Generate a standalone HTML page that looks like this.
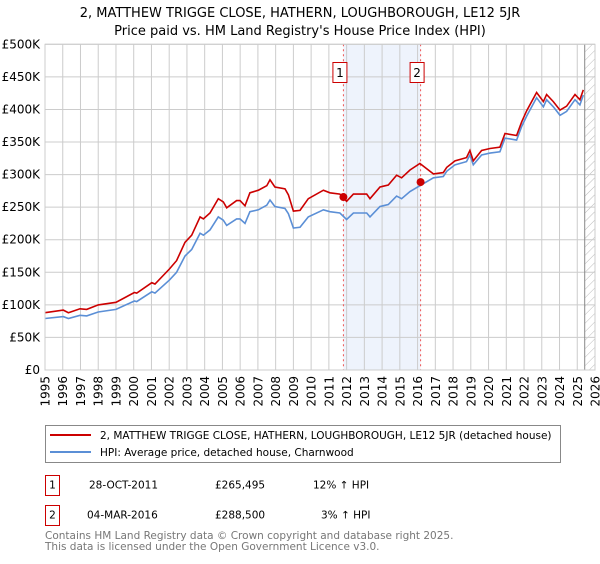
<!DOCTYPE html>
<html><head><meta charset="utf-8"><style>
body{margin:0;background:#fff;width:600px;height:560px;overflow:hidden;font-family:"DejaVu Sans","Liberation Sans",sans-serif;}
svg text{font-family:"DejaVu Sans","Liberation Sans",sans-serif;}
</style></head><body>
<svg id="chart" width="600" height="560" xmlns="http://www.w3.org/2000/svg">
<defs><pattern id="hatch" width="6" height="6" patternUnits="userSpaceOnUse" patternTransform="rotate(45)"><line x1="0" y1="0" x2="0" y2="6" stroke="#bbb" stroke-width="1"/></pattern></defs>
<text x="300" y="17" font-size="13" text-anchor="middle">2, MATTHEW TRIGGE CLOSE, HATHERN, LOUGHBOROUGH, LE12 5JR</text>
<text x="300" y="35" font-size="13" text-anchor="middle">Price paid vs. HM Land Registry's House Price Index (HPI)</text>
<g id="grid"></g><g id="marks"></g><g id="axes"></g>
<rect x="45.5" y="425.5" width="515" height="37" fill="#fff" stroke="#888"/>
<line x1="50" y1="435" x2="91" y2="435" stroke="#cc0000" stroke-width="2"/>
<text x="100" y="439" font-size="10.5">2, MATTHEW TRIGGE CLOSE, HATHERN, LOUGHBOROUGH, LE12 5JR (detached house)</text>
<line x1="50" y1="452" x2="91" y2="452" stroke="#5b8fd6" stroke-width="2"/>
<text x="100" y="456" font-size="10.5">HPI: Average price, detached house, Charnwood</text>
<g font-size="10.5">
<rect x="45.5" y="475.5" width="14" height="20" fill="#fff" stroke="#cc0000"/><text x="52.5" y="488.5" text-anchor="middle">1</text>
<text x="89" y="488.5">28-OCT-2011</text><text x="215" y="488.5">£265,495</text><text x="313" y="488.5">12% ↑ HPI</text></g>
<g font-size="10.5">
<rect x="45.5" y="505.5" width="14" height="20" fill="#fff" stroke="#cc0000"/><text x="52.5" y="518.5" text-anchor="middle">2</text>
<text x="87" y="518.5">04-MAR-2016</text><text x="215" y="518.5">£288,500</text><text x="321" y="518.5">3% ↑ HPI</text></g>
<text x="45" y="539" font-size="10.5" fill="#777">Contains HM Land Registry data © Crown copyright and database right 2025.</text>
<text x="45" y="550" font-size="10.5" fill="#777">This data is licensed under the Open Government Licence v3.0.</text>
</svg>
<script>
const years=[1995.0,1996.03,1996.32,1996.97,1997.35,1998.0,1999.0,2000.04,2000.17,2001.02,2001.2,2002.01,2002.42,2002.89,2003.27,2003.74,2003.93,2004.3,2004.77,2005.05,2005.24,2005.8,2005.99,2006.27,2006.55,2007.03,2007.5,2007.68,2007.96,2008.53,2008.72,2009.0,2009.37,2009.84,2010.69,2011.06,2011.62,2012.0,2012.38,2013.13,2013.32,2013.88,2014.35,2014.82,2015.1,2015.57,2016.13,2016.89,2017.45,2017.64,2018.11,2018.76,2018.95,2019.14,2019.61,2020.08,2020.64,2020.93,2021.58,2021.87,2022.15,2022.71,2023.09,2023.27,2023.65,2024.03,2024.4,2024.87,2025.15,2025.34];
const hpiValues=[79,82,79,84,83,89,93,106,105,120,118,138,150,175,185,210,207,215,235,230,222,232,232,225,243,246,253,261,251,248,240,218,219,235,246,243,241,231,241,241,235,251,254,267,263,274,283,295,297,305,315,320,330,315,330,333,335,356,353,374,390,418,404,415,404,391,397,415,407,422];
const priceValues=[88,92,88,94,93,100,104,119,118,134,132,155,168,196,207,235,232,241,263,258,249,260,260,252,272,276,283,292,281,278,269,244,245,263,276,272,270,259,270,270,263,281,284,299,295,307,317,301,303,311,321,326,337,321,337,340,342,363,360,381,398,426,412,423,412,399,405,423,415,430];
const saleYears=[2011.82,2016.17];
const salePrices=[265.495,288.5];
const saleLabels=["1","2"];
const yTicks=[0,50,100,150,200,250,300,350,400,450,500];
const yTickLabels=["£0","£50K","£100K","£150K","£200K","£250K","£300K","£350K","£400K","£450K","£500K"];
const xTicks=[1995,1996,1997,1998,1999,2000,2001,2002,2003,2004,2005,2006,2007,2008,2009,2010,2011,2012,2013,2014,2015,2016,2017,2018,2019,2020,2021,2022,2023,2024,2025,2026];
const dataEnd=2025.42;
const X0=45,X1=595,Y0=370,Y1=44.3;
const xs=y=>X0+(y-1995)/(2026-1995)*(X1-X0);
const ys=v=>Y0-v/500*(Y0-Y1);
const NS="http://www.w3.org/2000/svg";
function mk(tag,attrs,parent){const e=document.createElementNS(NS,tag);for(const k in attrs)e.setAttribute(k,attrs[k]);parent.appendChild(e);return e;}
const grid=document.getElementById('grid'),marks=document.getElementById('marks'),axes=document.getElementById('axes');
let sh=mk('rect',{x:xs(saleYears[0]),y:Y1,width:xs(saleYears[1])-xs(saleYears[0]),height:Y0-Y1,fill:'#eef3fc'},grid);


let ht=mk('rect',{x:xs(dataEnd),y:Y1,width:X1-xs(dataEnd),height:Y0-Y1,fill:'url(#hatch)'},grid);


yTicks.forEach((t,i)=>{
 const l=mk('line',{x1:X0,x2:X1,y1:ys(t),y2:ys(t),stroke:'#cccccc'},grid);
 
 
 const tx=mk('text',{x:40,y:ys(t)+4,'font-size':12,'text-anchor':'end'},axes);
 tx.textContent=yTickLabels[i];
 
 
});
xTicks.forEach(t=>{
 const l=mk('line',{x1:xs(t),x2:xs(t),y1:Y1,y2:Y0,stroke:'#cccccc'},grid);
 
 
 const tx=mk('text',{x:0,y:0,'font-size':12,'text-anchor':'end',transform:`translate(${xs(t)+4.5},376) rotate(-90)`},axes);
 tx.textContent=t;
 
 
});
let el=mk('line',{x1:xs(dataEnd),x2:xs(dataEnd),y1:Y1,y2:Y0,stroke:'#888'},grid);


saleYears.forEach((s,i)=>{
 const l=mk('line',{x1:xs(s),x2:xs(s),y1:Y1,y2:Y0,stroke:'#ee5555','stroke-dasharray':'2,3'},grid);
 
 
});
const pts=v=>years.map((y,i)=>xs(y).toFixed(1)+','+ys(v[i]).toFixed(1)).join(' ');
const hl=mk('polyline',{points:pts(hpiValues),fill:'none',stroke:'#5b8fd6','stroke-width':1.6},marks);


const pl=mk('polyline',{points:pts(priceValues),fill:'none',stroke:'#cc0000','stroke-width':1.6},marks);


saleYears.forEach((s,i)=>{
 const c=mk('circle',{cx:xs(s),cy:ys(salePrices[i]),r:4,fill:'#cc0000'},marks);
 
 
 const b=mk('rect',{x:xs(s)-10.5,y:62.5,width:14,height:20,fill:'#fff',stroke:'#cc0000'},marks);
 
 
 const t=mk('text',{x:xs(s)-3.5,y:77,'font-size':12,'text-anchor':'middle'},marks);
 t.textContent=saleLabels[i];
 
 
});
const fr=mk('rect',{x:X0,y:Y1,width:X1-X0,height:Y0-Y1,fill:'none',stroke:'#ccc'},axes);


</script>
</body></html>
